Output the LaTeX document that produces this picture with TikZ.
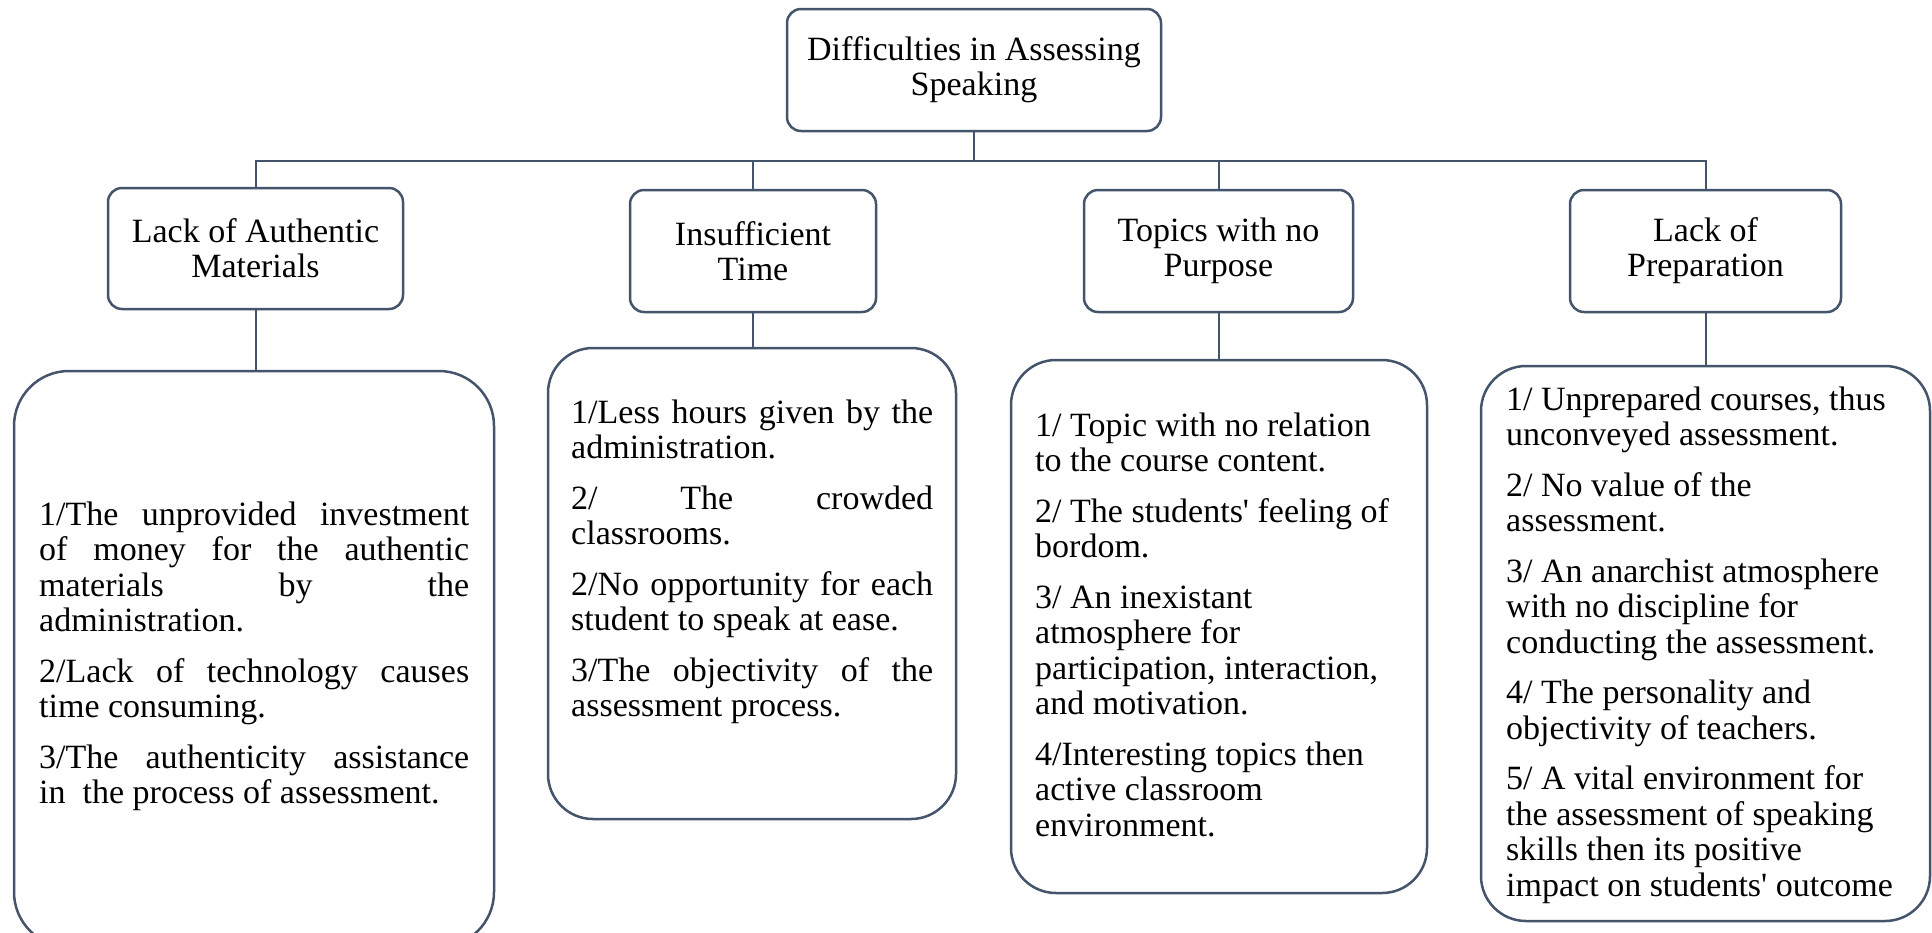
\documentclass[tikz,border=0pt]{standalone}
\usepackage{fontspec}
\setmainfont{Liberation Serif}
\definecolor{edge}{HTML}{44546A}
\newcommand{\jl}[2]{\makebox[#1][s]{\spaceskip=0pt\xspaceskip=0pt\relax #2}}
\newcommand{\natsp}{\spaceskip=0pt\xspaceskip=0pt\relax}
\begin{document}
\begin{tikzpicture}[x=1pt,y=-1pt,
  headbox/.style={draw=edge,line width=2.5pt,rounded corners=14pt,fill=white,
    align=center,inner sep=0pt,font=\fontsize{34}{35}\selectfont},
  leafbox/.style={draw=edge,line width=2.5pt,rounded corners=45pt,inner sep=0pt},
  leaftext/.style={inner sep=0pt,anchor=base west,align=left,
    font=\fontsize{34}{35.5}\selectfont},
  conn/.style={draw=edge,line width=2pt}]
\useasboundingbox (0,0) rectangle (1932,932);
% top level
\node[headbox,minimum width=374pt,minimum height=122pt] (root) at (974,70)
  {Difficulties in Assessing\\Speaking};
% categories
\node[headbox,minimum width=295pt,minimum height=121pt] (c1) at (255.5,248.5)
  {Lack of Authentic\\Materials};
\node[headbox,minimum width=246pt,minimum height=122pt] (c2) at (753,251)
  {Insufficient\\Time};
\node[headbox,minimum width=269pt,minimum height=122pt] (c3) at (1218.5,251)
  {Topics with no\\Purpose};
\node[headbox,minimum width=271pt,minimum height=122pt] (c4) at (1705.5,251)
  {Lack of\\Preparation};
% leaf boxes
\node[leafbox,rounded corners=55pt,minimum width=480pt,minimum height=576pt] (l1) at (254,659) {};
\node[leafbox,minimum width=408pt,minimum height=471pt] (l2) at (752,583.5) {};
\node[leafbox,minimum width=416pt,minimum height=533pt] (l3) at (1219,626.5) {};
\node[leafbox,minimum width=449pt,minimum height=555pt] (l4) at (1705.5,643.5) {};
% leaf texts
\node[leaftext,text width=430pt] (t1) at (39,525) {\natsp
\jl{430pt}{1/The unprovided investment}\\
\jl{430pt}{of money for the authentic}\\
\jl{430pt}{materials by the}\\
administration.\\[15pt]
\jl{430pt}{2/Lack of technology causes}\\
time consuming.\\[15pt]
\jl{430pt}{3/The authenticity assistance}\\
in\ \ the process of assessment.};
\node[leaftext,text width=362pt] (t2) at (571,423) {\natsp
\jl{362pt}{1/Less hours given by the}\\
administration.\\[15pt]
\jl{362pt}{2/ The crowded}\\
classrooms.\\[15pt]
\jl{362pt}{2/No opportunity for each}\\
student to speak at ease.\\[15pt]
\jl{362pt}{3/The objectivity of the}\\
assessment process.};
\node[leaftext,text width=385pt] (t3) at (1035,436) {\natsp
1/ Topic with no relation\\
to the course content.\\[15pt]
2/ The students\textquotesingle{} feeling of\\
bordom.\\[15pt]
3/ An inexistant\\
atmosphere for\\
participation, interaction,\\
and motivation.\\[15pt]
4/Interesting topics then\\
active classroom\\
environment.};
\node[leaftext,text width=415pt] (t4) at (1506,410) {\natsp
1/ Unprepared courses, thus\\
unconveyed assessment.\\[15pt]
2/ No value of the\\
assessment.\\[15pt]
3/ An anarchist atmosphere\\
with no discipline for\\
conducting the assessment.\\[15pt]
4/ The personality and\\
objectivity of teachers.\\[15pt]
5/ A vital environment for\\
the assessment of speaking\\
skills then its positive\\
impact on students\textquotesingle{} outcome};
% connectors
\foreach \c in {c1,c2,c3,c4}
  \draw[conn] (root.south) -- ++(0,29) -| (\c.north);
\draw[conn] (c1.south) -- (c1.south |- l1.north);
\draw[conn] (c2.south) -- (c2.south |- l2.north);
\draw[conn] (c3.south) -- (c3.south |- l3.north);
\draw[conn] (c4.south) -- (c4.south |- l4.north);
\end{tikzpicture}
\end{document}
